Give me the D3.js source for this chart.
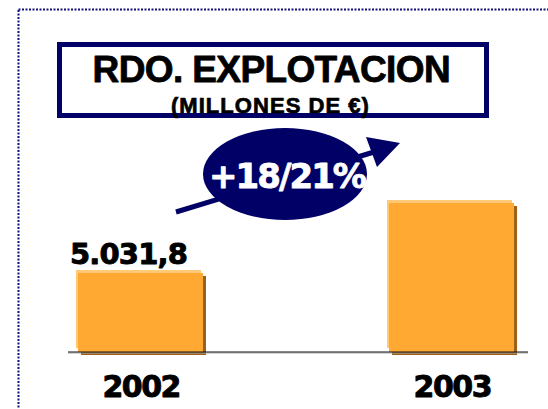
<!DOCTYPE html>
<html>
<head>
<meta charset="utf-8">
<script src="https://cdn.jsdelivr.net/npm/d3@7"></script>
<style>
  body { margin: 0; background: #fff; }
  svg { display: block; font-family: "DejaVu Sans", Verdana, sans-serif; }
  .heavy { font-weight: bold; stroke-linejoin: round; }
  .arial { font-family: "Liberation Sans", Arial, sans-serif; }
</style>
</head>
<body>
<div id="chart"></div>
<script>
// Data (2003 value is not labelled; estimated from the +18/21% note)
const years = ["2002", "2003"];
const values = [5031.8, 6040];
const valueLabels = ["5.031,8", ""];
const titleText = "RDO. EXPLOTACION";
const subtitleText = "(MILLONES DE €)";
const growthText = "+18/21%";

const W = 548, H = 409;
const colors = {
    navy: "#000066",
    bar: "#FFA832",
    barLight: "#FFCA78",
    barShadow: "#9C6118"
};

// adjust letter spacing so a text fills the width seen in the picture
function fitText(node, target) {
    const len = node.getComputedTextLength();
    const n = node.textContent.length;
    const ls = (target - len) / Math.max(1, n - 1);
    d3.select(node).style("letter-spacing", ls + "px");
    if (d3.select(node).attr("text-anchor") === "middle") {
        d3.select(node).attr("dx", -ls / 2);
    }
}

const svg = d3.select("#chart").append("svg")
    .attr("width", W)
    .attr("height", H);

// dotted frame
svg.append("rect")
    .attr("x", 18.5).attr("y", 9.5)
    .attr("width", 560).attr("height", 430)
    .attr("fill", "none")
    .attr("stroke", "#10107a")
    .attr("stroke-width", 2)
    .attr("stroke-dasharray", "2,1.5");

// scales
const xScale = d3.scaleBand()
    .domain(years)
    .range([68, 524])
    .paddingInner(0.598)
    .paddingOuter(0.032);

const yScale = d3.scaleLinear()
    .domain([3894, 6040])
    .range([352, 203]);

// title box
svg.append("rect")
    .attr("x", 59.5).attr("y", 44.5)
    .attr("width", 427).attr("height", 71)
    .attr("fill", "#fff")
    .attr("stroke", colors.navy)
    .attr("stroke-width", 5);

svg.append("text")
    .attr("class", "heavy arial")
    .attr("x", 271).attr("y", 82)
    .attr("text-anchor", "middle")
    .style("font-size", "37px")
    .style("stroke", "#000").style("stroke-width", 0.8)
    .text(titleText)
    .each(function() { fitText(this, 358); });

svg.append("text")
    .attr("class", "heavy arial")
    .attr("x", 271).attr("y", 113)
    .attr("text-anchor", "middle")
    .style("font-size", "22px")
    .style("stroke", "#000").style("stroke-width", 0.7)
    .text(subtitleText)
    .each(function() { fitText(this, 198); });

// growth arrow behind the ellipse
svg.append("line")
    .attr("x1", 176).attr("y1", 212)
    .attr("x2", 374).attr("y2", 152)
    .attr("stroke", colors.navy)
    .attr("stroke-width", 5);

svg.append("path")
    .attr("d", "M366,137 L400,143 L377,167 Z")
    .attr("fill", colors.navy);

svg.append("ellipse")
    .attr("cx", 285).attr("cy", 174)
    .attr("rx", 82).attr("ry", 46)
    .attr("fill", colors.navy);

svg.append("text")
    .attr("class", "heavy")
    .attr("x", 286).attr("y", 188)
    .attr("text-anchor", "middle")
    .style("font-size", "34px")
    .style("fill", "#fff")
    .style("stroke", "#fff").style("stroke-width", 0.8)
    .text(growthText)
    .each(function() { fitText(this, 158); });

// bars: shadow, highlight, face
const data = years.map((y, i) => ({ year: y, value: values[i], label: valueLabels[i] }));
const base = yScale.range()[0];

const bars = svg.selectAll(".bar")
    .data(data)
    .enter()
    .append("g")
    .attr("class", "bar");

bars.append("rect")
    .attr("x", d => xScale(d.year) + 3)
    .attr("y", d => yScale(d.value) + 3)
    .attr("width", xScale.bandwidth())
    .attr("height", d => base - yScale(d.value))
    .attr("fill", colors.barShadow);

bars.append("rect")
    .attr("x", d => xScale(d.year) - 2)
    .attr("y", d => yScale(d.value) - 3)
    .attr("width", xScale.bandwidth())
    .attr("height", d => base - yScale(d.value) - 1)
    .attr("fill", colors.barLight);

bars.append("rect")
    .attr("x", d => xScale(d.year))
    .attr("y", d => yScale(d.value))
    .attr("width", xScale.bandwidth())
    .attr("height", d => base - yScale(d.value))
    .attr("fill", colors.bar);

// baseline
svg.append("line")
    .attr("x1", 68).attr("x2", 528)
    .attr("y1", base + 1).attr("y2", base + 1)
    .attr("stroke", "#aaa")
    .attr("stroke-width", 1);
svg.append("line")
    .attr("x1", 68).attr("x2", 528)
    .attr("y1", base).attr("y2", base)
    .attr("stroke", "#111")
    .attr("stroke-width", 1.2);

// value label
bars.filter(d => d.label)
    .append("text")
    .attr("class", "heavy")
    .attr("x", d => xScale(d.year) - 8)
    .attr("y", d => yScale(d.value) - 9)
    .style("font-size", "29px")
    .style("stroke", "#000").style("stroke-width", 0.9)
    .text(d => d.label)
    .each(function() { fitText(this, 118); });

// year labels
bars.append("text")
    .attr("class", "heavy")
    .attr("x", d => xScale(d.year) + xScale.bandwidth() / 2)
    .attr("y", 397)
    .attr("text-anchor", "middle")
    .style("font-size", "30px")
    .style("stroke", "#000").style("stroke-width", 0.9)
    .text(d => d.year)
    .each(function() { fitText(this, 79); });
</script>
</body>
</html>
